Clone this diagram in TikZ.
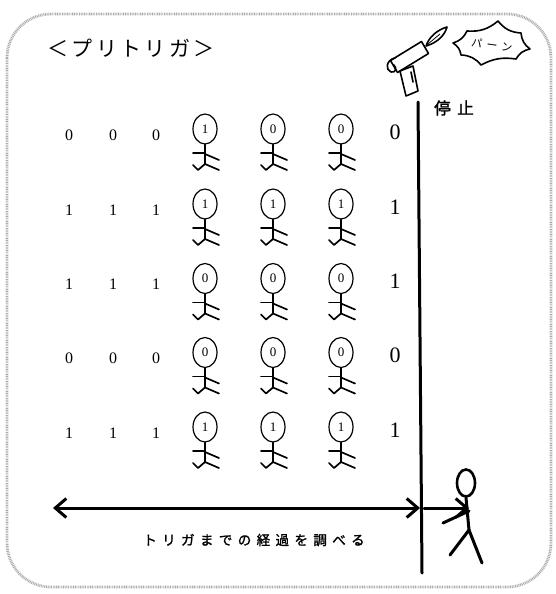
\documentclass[tikz,border=0pt]{standalone}
\usepackage{fontspec}
\usetikzlibrary{arrows.meta,shapes.geometric}
\newfontfamily\jptitle[LetterSpace=16]{Noto Sans CJK JP}
\newfontfamily\jpwide[LetterSpace=40]{Noto Sans CJK JP}
\newfontfamily\jpbold[LetterSpace=40,FakeBold=1.5]{Noto Sans CJK JP}
\newfontfamily\digits{Liberation Serif}
\tikzset{
  frameline/.style={draw=gray!65, line width=2.8pt, dash pattern=on 0.9pt off 0.8pt, rounded corners=44pt},
  headshape/.style={draw, ellipse, line width=1.2pt, minimum width=24pt, minimum height=30pt,
    inner sep=0pt, font=\digits\fontsize{13}{13}\selectfont},
  limb/.style={line width=1.7pt, line cap=round, line join=round},
  bitval/.style={font=\digits\fontsize{16}{16}\selectfont, inner sep=0pt},
  outval/.style={font=\digits\fontsize{22}{22}\selectfont, inner sep=0pt},
  heavy/.style={line width=3pt, line cap=round, line join=round},
  chevron/.tip={Straight Barb[length=11pt, width=19pt, line width=3pt]},
  sketch/.style={line width=1.6pt, line join=round, line cap=round},
  walker/.pic={
    \node[headshape] (-head) at (0,0) {#1};
    \draw[limb] (-head.south) -- (0,35);
    \draw[limb] (-12,24) -- (0,24);
    \draw[limb] (0,25) -- (14,31);
    \draw[limb] (-12,36) -- (-7,41) -- (0,35) -- (14,41);
  }
}
\begin{document}
\begin{tikzpicture}[x=1pt, y=-1pt]
  \useasboundingbox (0,0) rectangle (555,594);
  % dotted rounded frame
  \draw[frameline] (7,14) rectangle (551,587);

  % title
  \node (title) at (131,48) {\jptitle\fontsize{21}{21}\selectfont ＜プリトリガ＞};

  % starting pistol with flame
  \draw[sketch, fill=white] (390.5,60.5) -- (421.5,41.5) -- (428.5,53.5) -- (397.5,72.5) -- cycle;
  \draw[sketch, fill=white] (400,71) -- (413,66) -- (418,91) -- (406,96) -- cycle;
  \draw[sketch] (411,72) -- (413,82);
  \draw[sketch] (395,58) .. controls (386,60) and (385,70) .. (391,72) .. controls (396,73) and (397,68) .. (394,65);
  \draw[sketch] (426,46) .. controls (429,37) and (437,30) .. (447,27)
                .. controls (445,35) and (437,43) .. cycle;
  \draw[line width=0.8pt] (428,44) -- (440,34);

  % burst with sound
  \draw[sketch, line width=1.6pt]
    (453,43) to[bend right=24] (467,31) to[bend right=22] (498,21) to[bend right=24] (521,33)
    to[bend right=24] (530,49) to[bend right=24] (516,59) to[bend right=18] (481,65)
    to[bend right=24] (461,55) to[bend right=24] (453,43) -- cycle;
  \node[rotate=-8, inner sep=0pt] (bang) at (492,45) {\jpwide\fontsize{11}{11}\selectfont パーン};

  % stop line
  \coordinate (stoptop) at (418,102);
  \coordinate (stopbot) at (422,573);
  \draw[heavy] (stoptop) -- (stopbot);
  \node (stop) at (454,108) {\jpbold\fontsize{16.5}{16.5}\selectfont 停止};

  % rows: input bits, people, output bit
  \foreach \r/\y/\b/\pa/\pb/\pc/\o in {1/135/0/1/0/0/0, 2/210/1/1/1/1/1, 3/284.5/1/0/0/0/1, 4/358.5/0/0/0/0/0, 5/433/1/1/1/1/1}{
    \node[bitval] (in\r a) at (69,\y) {\b};
    \node[bitval] (in\r b) at (113,\y) {\b};
    \node[bitval] (in\r c) at (156,\y) {\b};
    \pic (p\r a) at (205,\y-6) {walker=\pa};
    \pic (p\r b) at (273,\y-6) {walker=\pb};
    \pic (p\r c) at (341,\y-6) {walker=\pc};
    \node[outval] (out\r) at (395,\y-3) {\o};
  }

  % observer on the right
  \node[draw, ellipse, line width=2.6pt, minimum width=18pt, minimum height=27pt, inner sep=0pt] (obs) at (466,483) {};
  \coordinate (hip) at (469,530);
  \coordinate (grab) at (424,508);
  \coordinate (hand) at (469,508);
  \coordinate (elbow) at (443,523);
  \coordinate (footl) at (450,555);
  \coordinate (footr) at (482,563);
  \draw[heavy] (obs.south) -- (hip);
  \draw[heavy, -{chevron}] (grab) -- (hand);
  \draw[heavy] (469,511) -- (elbow);
  \draw[heavy] (footl) -- (hip) -- (footr);

  % history arrow and caption
  \coordinate (histl) at (53,508);
  \coordinate (histr) at (420,508);
  \draw[heavy, {chevron}-{chevron}] (histl) -- (histr);
  \node (caption) at (254,540) {\jpbold\fontsize{13.5}{13.5}\selectfont トリガまでの経過を調べる};
\end{tikzpicture}
\end{document}
